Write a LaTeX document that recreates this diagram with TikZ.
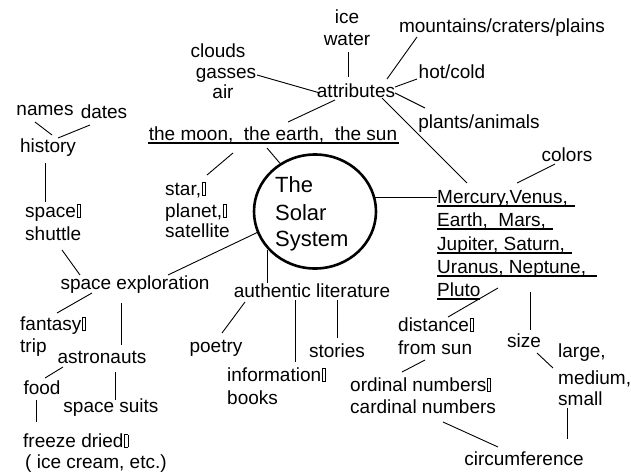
\documentclass[tikz,border=0pt]{standalone}
\usepackage{fontspec}
\setmainfont{Liberation Sans}
\usetikzlibrary{shapes.geometric}
\newcommand{\gbx}{\kern0.6pt{\setlength{\fboxsep}{0pt}\setlength{\fboxrule}{0.9pt}\fbox{\rule{0pt}{12pt}\kern2.5pt}}}
\begin{document}
\begin{tikzpicture}[x=1pt,y=-1pt,
  txt/.style={inner sep=0pt, font=\fontsize{19}{22}\selectfont},
  ttl/.style={inner sep=0pt, font=\fontsize{22}{27}\selectfont},
  conn/.style={line width=0.9pt},
  uline/.style={line width=1.3pt}]
\useasboundingbox (0,0) rectangle (631,471);

% ---- top cluster
\node[txt, anchor=base] (ice) at (347,23) {ice};
\node[txt, anchor=base] (water) at (347,45) {water};
\node[txt, anchor=base] (attr) at (356,97) {attributes};
\node[txt, anchor=base] (clouds) at (218,57) {clouds};
\node[txt, anchor=base] (gasses) at (226,78) {gasses};
\node[txt, anchor=base] (air) at (223,98) {air};
\node[txt, anchor=base] (mount) at (502,32) {mountains/craters/plains};
\node[txt, anchor=base] (hot) at (452,78) {hot/cold};
\node[txt, anchor=base] (plants) at (479,128) {plants/animals};
\node[txt, anchor=base] (moon) at (273,140) {the moon,\ \ the earth,\ \ the sun};

% ---- left top
\node[txt, anchor=base] (names) at (45,115) {names};
\node[txt, anchor=base] (dates) at (104,118) {dates};
\node[txt, anchor=base] (history) at (48,152) {history};
\node[txt, anchor=base west] (space1) at (25,217) {space\gbx};
\node[txt, anchor=base west] (shuttle) at (25,240) {shuttle};
\node[txt, anchor=base west] (star) at (165,195) {star,\gbx};
\node[txt, anchor=base west] (planet) at (165,217) {planet,\gbx};
\node[txt, anchor=base west] (sat) at (165,237) {satellite};

% ---- centre
\node[draw, ellipse, line width=2.6pt, minimum width=122pt, minimum height=114pt, inner sep=0pt] (sun) at (315,211.5) {};
\node[ttl, anchor=base west] (the) at (275,192) {The};
\node[ttl, anchor=base west] (solar) at (275,220) {Solar};
\node[ttl, anchor=base west] (system) at (275,246) {System};

% ---- planets list
\node[txt, anchor=base west] (merc1) at (437,203) {Mercury,Venus,};
\node[txt, anchor=base west] (merc2) at (437,226) {Earth,\ \ Mars,};
\node[txt, anchor=base west] (merc3) at (437,250) {Jupiter, Saturn,};
\node[txt, anchor=base west] (merc4) at (437,273) {Uranus, Neptune,};
\node[txt, anchor=base west] (merc5) at (437,296) {Pluto};
\node[txt, anchor=base] (colors) at (567,161) {colors};

% ---- lower left
\node[txt, anchor=base] (spaceexp) at (135,289) {space exploration};
\node[txt, anchor=base west] (fant) at (20,330) {fantasy\gbx};
\node[txt, anchor=base west] (trip) at (20,352) {trip};
\node[txt, anchor=base] (astro) at (102,363) {astronauts};
\node[txt, anchor=base] (food) at (42,394) {food};
\node[txt, anchor=base] (suits) at (111,412) {space suits};
\node[txt, anchor=base west] (freeze) at (23,447) {freeze dried\gbx};
\node[txt, anchor=base west] (icecream) at (25,468) {( ice cream, etc.)};

% ---- lower middle
\node[txt, anchor=base] (auth) at (312,297) {authentic literature};
\node[txt, anchor=base] (poetry) at (216,352) {poetry};
\node[txt, anchor=base west] (info) at (227,381) {information\gbx};
\node[txt, anchor=base west] (books) at (227,404) {books};
\node[txt, anchor=base] (stories) at (337,357) {stories};

% ---- lower right
\node[txt, anchor=base west] (dist) at (398,331) {distance\gbx};
\node[txt, anchor=base west] (fromsun) at (398,354) {from sun};
\node[txt, anchor=base west] (ord) at (350,391) {ordinal numbers\gbx};
\node[txt, anchor=base west] (card) at (350,413) {cardinal numbers};
\node[txt, anchor=base] (size) at (524,347) {size};
\node[txt, anchor=base west] (large) at (558,357) {large,};
\node[txt, anchor=base west] (medium) at (558,384) {medium,};
\node[txt, anchor=base west] (small) at (558,405) {small};
\node[txt, anchor=base] (circ) at (524,465) {circumference};

% ---- underlines
\draw[uline] ([shift={(-125,3)}]moon.base) -- ([shift={(126,3)}]moon.base);
\draw[uline] ([shift={(0,3)}]merc1.base west) -- ([shift={(138,3)}]merc1.base west);
\draw[uline] ([shift={(0,3)}]merc2.base west) -- ([shift={(116,3)}]merc2.base west);
\draw[uline] ([shift={(0,3)}]merc3.base west) -- ([shift={(135,3)}]merc3.base west);
\draw[uline] ([shift={(0,3)}]merc4.base west) -- ([shift={(160,3)}]merc4.base west);
\draw[uline] ([shift={(0,3)}]merc5.base west) -- ([shift={(43,3)}]merc5.base west);

% ---- connectors
\draw[conn] ([shift={(1,7)}]water.base) -- ([shift={(-8,-20)}]attr.base);
\draw[conn] ([shift={(31,-3)}]gasses.base) -- ([shift={(-36,-4)}]attr.base);
\draw[conn] ([shift={(-85,5)}]mount.base) -- ([shift={(31,-18)}]attr.base);
\draw[conn] ([shift={(-35,1)}]hot.base) -- ([shift={(39,-10)}]attr.base);
\draw[conn] ([shift={(-54,-20)}]plants.base) -- ([shift={(39,-4)}]attr.base);
\draw[conn] ([shift={(26,1)}]attr.base) -- ([shift={(30,-20)}]merc1.base west);
\draw[conn] ([shift={(-21,3)}]attr.base) -- ([shift={(15,-18)}]moon.base);
\draw[conn] ([shift={(-10,7)}]names.base) -- ([shift={(4,-17)}]history.base);
\draw[conn] ([shift={(-14,7)}]dates.base) -- ([shift={(10,-14)}]history.base);
\draw[conn] ([shift={(-3,11)}]history.base) -- ([shift={(20,-15)}]space1.base west);
\draw[conn] ([shift={(37,10)}]shuttle.base west) -- ([shift={(-55,-14)}]spaceexp.base);
\draw[conn] ([shift={(33,-14)}]spaceexp.base) -- (sun.200);
\draw[conn] ([shift={(42,-20)}]star.base west) -- ([shift={(-40,13)}]moon.base);
\draw[conn] (sun.126) -- ([shift={(-6,8)}]moon.base);
\draw[conn] (sun.13) -- (sun.13 -| merc1.west);
\draw[conn] ([shift={(-12,3)}]colors.base) -- ([shift={(80,-20)}]merc1.base west);
\draw[conn] (sun.219) -- (sun.219 |- auth.north);
\draw[conn] ([shift={(-43,4)}]spaceexp.base) -- ([shift={(37,-17)}]fant.base west);
\draw[conn] ([shift={(-14,14)}]spaceexp.base) -- ([shift={(19,-18)}]astro.base);
\draw[conn] ([shift={(-39,4)}]astro.base) -- ([shift={(3,-16)}]food.base);
\draw[conn] ([shift={(-6,6)}]food.base) -- ([shift={(13,-25)}]freeze.base west);
\draw[conn] ([shift={(13,9)}]astro.base) -- ([shift={(4,-12)}]suits.base);
\draw[conn] ([shift={(-67,5)}]auth.base) -- ([shift={(6,-19)}]poetry.base);
\draw[conn] ([shift={(-17,3)}]auth.base) -- ([shift={(68,-19)}]info.base west);
\draw[conn] ([shift={(25,3)}]auth.base) -- ([shift={(0,-19)}]stories.base);
\draw[conn] ([shift={(61,-8)}]merc5.base west) -- ([shift={(50,-14)}]dist.base west);
\draw[conn] ([shift={(93,-4)}]merc5.base west) -- ([shift={(6,-17)}]size.base);
\draw[conn] ([shift={(13,6)}]size.base) -- ([shift={(-5,11)}]large.base west);
\draw[conn] ([shift={(27,6)}]fromsun.base west) -- ([shift={(52,-19)}]ord.base west);
\draw[conn] ([shift={(93,9)}]card.base west) -- ([shift={(-26,-18)}]circ.base);
\draw[conn] ([shift={(9,3)}]small.base west) -- ([shift={(43,-26)}]circ.base);
\end{tikzpicture}
\end{document}
